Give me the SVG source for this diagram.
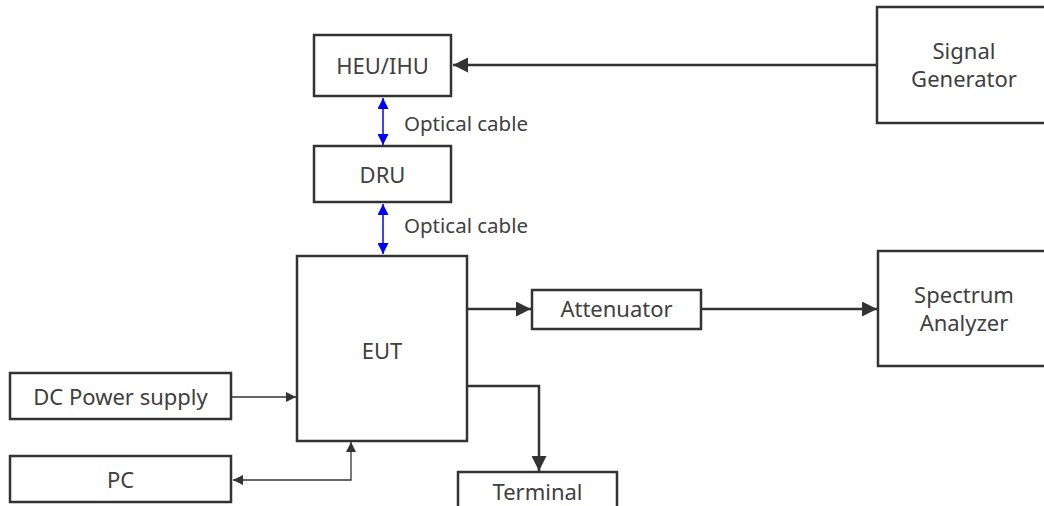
<svg xmlns="http://www.w3.org/2000/svg" width="1044" height="506" viewBox="0 0 1044 506">
<defs>
<style>
.box{fill:#fff;stroke:#333;stroke-width:2.5}
.lbl{font-family:"Noto Sans","Open Sans",sans-serif;font-size:22px;fill:#404040;text-anchor:middle}
.cap{font-family:"Noto Sans","Open Sans",sans-serif;font-size:20.5px;fill:#404040}
.thick{fill:none;stroke:#333;stroke-width:2.5}
.thin{fill:none;stroke:#333;stroke-width:1.3}
.blue{fill:none;stroke:#0000ff;stroke-width:1.5}
</style>
<marker id="ahL" viewBox="0 0 10 10" refX="10" refY="5" markerWidth="24" markerHeight="15" markerUnits="userSpaceOnUse" orient="auto-start-reverse"><path d="M0,0L10,5L0,10z" fill="#333"/></marker>
<marker id="ahs" viewBox="0 0 10 10" refX="10" refY="5" markerWidth="14" markerHeight="10" markerUnits="userSpaceOnUse" orient="auto-start-reverse"><path d="M0,0L10,5L0,10z" fill="#333"/></marker>
<marker id="ahb" viewBox="0 0 10 10" refX="10" refY="5" markerWidth="15" markerHeight="11" markerUnits="userSpaceOnUse" orient="auto-start-reverse"><path d="M0,0L10,5L0,10z" fill="#0000ff"/></marker>
</defs>
<rect width="1044" height="506" fill="#fff"/>
<g id="connectors">
<line class="thick" x1="877" y1="65" x2="453" y2="65" marker-end="url(#ahL)"/>
<line class="blue" x1="383" y1="98" x2="383" y2="145" marker-start="url(#ahb)" marker-end="url(#ahb)"/>
<line class="blue" x1="383" y1="204" x2="383" y2="254" marker-start="url(#ahb)" marker-end="url(#ahb)"/>
<line class="thick" x1="468" y1="309" x2="531" y2="309" marker-end="url(#ahL)"/>
<line class="thick" x1="702" y1="309" x2="877" y2="309" marker-end="url(#ahL)"/>
<line class="thin" x1="232" y1="397" x2="296" y2="397" marker-end="url(#ahs)"/>
<polyline class="thin" points="233,480 351,480 351,442" marker-start="url(#ahs)" marker-end="url(#ahs)"/>
<polyline class="thick" points="468,386 539,386 539,471" marker-end="url(#ahL)"/>
<text class="cap" x="404" y="131">Optical cable</text>
<text class="cap" x="404" y="233">Optical cable</text>
</g>
<g id="heu"><rect class="box" x="314" y="35" width="137" height="61"/><text class="lbl" x="382.5" y="74">HEU/IHU</text></g>
<g id="dru"><rect class="box" x="314" y="146" width="137" height="56"/><text class="lbl" x="382.5" y="183">DRU</text></g>
<g id="siggen"><rect class="box" x="877" y="7" width="170" height="116"/><text class="lbl" x="964" y="59">Signal</text><text class="lbl" x="964" y="87">Generator</text></g>
<g id="eut"><rect class="box" x="297" y="256" width="170" height="185"/><text class="lbl" x="382" y="359">EUT</text></g>
<g id="att"><rect class="box" x="532" y="290" width="169" height="39"/><text class="lbl" x="616.5" y="317">Attenuator</text></g>
<g id="sa"><rect class="box" x="878" y="251" width="170" height="115"/><text class="lbl" x="964" y="303">Spectrum</text><text class="lbl" x="964" y="331">Analyzer</text></g>
<g id="dc"><rect class="box" x="10" y="373" width="221" height="46"/><text class="lbl" x="120.5" y="405">DC Power supply</text></g>
<g id="pc"><rect class="box" x="10" y="456" width="221" height="46"/><text class="lbl" x="120.5" y="488">PC</text></g>
<g id="terminal"><rect class="box" x="458" y="472" width="159" height="40"/><text class="lbl" x="537.5" y="500">Terminal</text></g>
</svg>
